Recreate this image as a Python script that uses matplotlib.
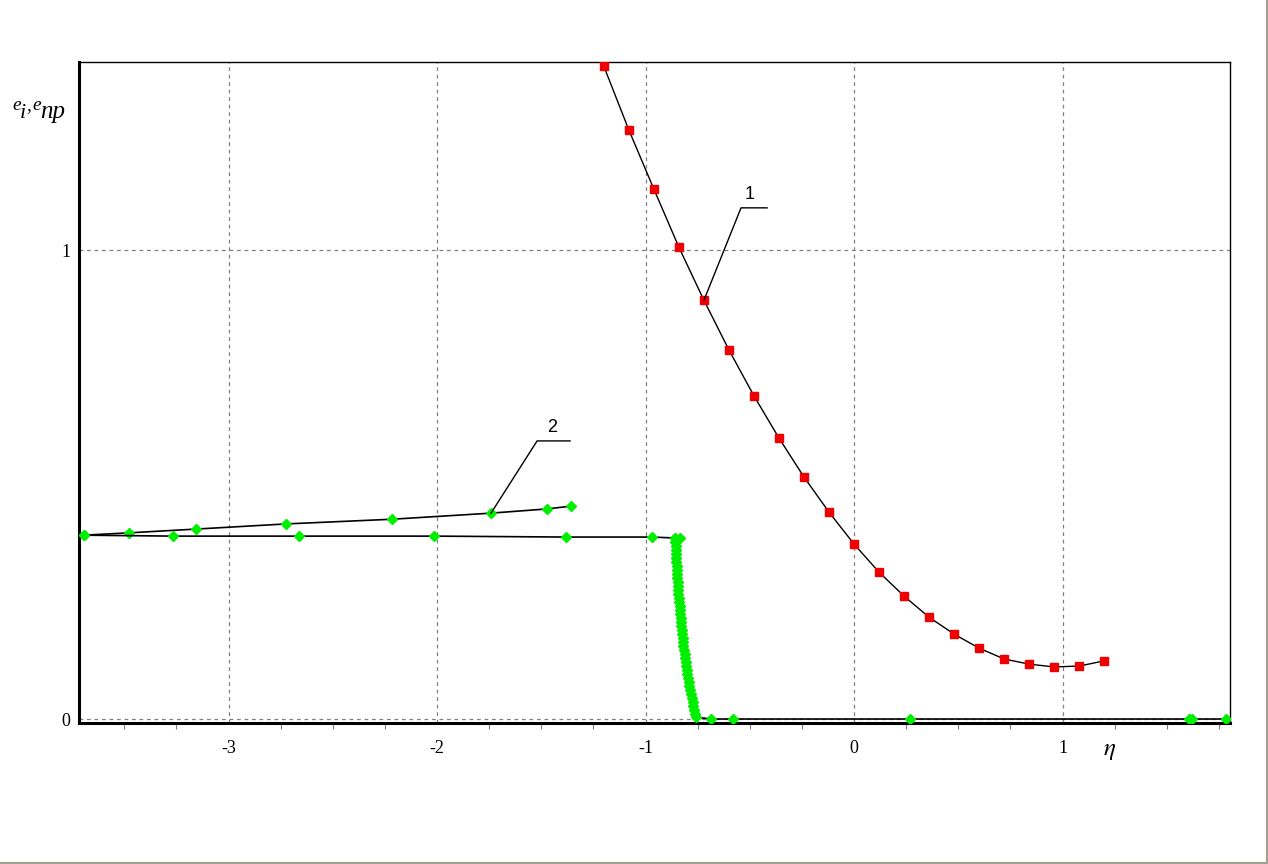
import matplotlib
matplotlib.use("Agg")
import matplotlib.pyplot as plt
import numpy as np
from matplotlib.ticker import MultipleLocator
from matplotlib.lines import Line2D

# Curve 1 (red squares)
eta1 = [-1.20, -1.08, -0.96, -0.84, -0.72, -0.60, -0.48, -0.36, -0.24, -0.12, 0.00,
        0.12, 0.24, 0.36, 0.48, 0.60, 0.72, 0.84, 0.96, 1.08, 1.20]
e1 = [1.392, 1.256, 1.130, 1.006, 0.893, 0.787, 0.689, 0.599, 0.516, 0.441, 0.373,
      0.313, 0.262, 0.217, 0.181, 0.151, 0.128, 0.117, 0.111, 0.113, 0.124]

# Curve 2 upper branch (green diamonds)
eta2_up = [-3.693, -3.477, -3.156, -2.724, -2.216, -1.741, -1.472, -1.357]
e2_up = [0.392, 0.397, 0.405, 0.416, 0.426, 0.439, 0.448, 0.454]

# Curve 2 lower branch, dense drop and zero tail
eta2_low = [-3.693, -3.266, -2.662, -2.014, -1.381, -0.969, -0.859, -0.835,
            -0.859, -0.857, -0.856, -0.855, -0.854, -0.853, -0.852, -0.851, -0.850,
            -0.849, -0.847, -0.846, -0.845, -0.844, -0.843, -0.841, -0.839, -0.837,
            -0.835, -0.834, -0.832, -0.830, -0.828, -0.826, -0.824, -0.822, -0.820,
            -0.818, -0.816, -0.813, -0.811, -0.808, -0.805, -0.802, -0.799, -0.796,
            -0.793, -0.790, -0.786, -0.782, -0.778, -0.774, -0.770, -0.766, -0.762,
            -0.758, -0.686, -0.580, 0.269, 1.607, 1.621, 1.784]
e2_low = [0.392, 0.390, 0.390, 0.390, 0.388, 0.388, 0.386, 0.386,
          0.386, 0.377, 0.369, 0.360, 0.352, 0.343, 0.335, 0.326, 0.318,
          0.309, 0.301, 0.292, 0.284, 0.275, 0.267, 0.258, 0.249, 0.241,
          0.232, 0.224, 0.215, 0.207, 0.198, 0.190, 0.181, 0.173, 0.164,
          0.156, 0.147, 0.139, 0.130, 0.122, 0.113, 0.104, 0.096, 0.087,
          0.079, 0.070, 0.062, 0.053, 0.045, 0.036, 0.028, 0.019, 0.011,
          0.004, 0.0, 0.0, 0.0, 0.0, 0.0, 0.0]

x_ticks = [-3, -2, -1, 0, 1]
y_ticks = [0, 1]

plt.rcParams['mathtext.fontset'] = 'stix'

W, H = 1268, 864
fig = plt.figure(figsize=(W/100, H/100), dpi=100)
ax = fig.add_axes([79/W, 1-723/H, (1230-79)/W, (723-62)/H])

ax.set_xlim(-3.717, 1.803)
ax.set_ylim(-0.0085, 1.401)

ax.grid(True, color='#808080', linestyle=(0, (3, 3)), linewidth=0.9)
ax.set_axisbelow(True)

ax.plot(eta2_up, e2_up, color='black', lw=1.2, marker='D', ms=5.5,
        mfc='#00ee00', mec='#00ee00', zorder=3)
ax.plot(eta2_low, e2_low, color='black', lw=1.2, marker='D', ms=5.5,
        mfc='#00ee00', mec='#00ee00', zorder=3)
ax.plot(eta1, e1, color='black', lw=1.0, marker='s', ms=6,
        mfc='#ee0000', mec='#ee0000', zorder=4)

# leader lines and labels
ax.plot([eta1[4], -0.542, -0.417], [e1[4], 1.090, 1.090], color='black', lw=1.0, zorder=5)
ax.text(-0.499, 1.100, '1', fontsize=13, ha='center', va='bottom', family='Liberation Sans')
ax.plot([eta2_up[5], -1.520, -1.362], [e2_up[5], 0.593, 0.593], color='black', lw=1.0, zorder=5)
ax.text(-1.448, 0.603, '2', fontsize=13, ha='center', va='bottom', family='Liberation Sans')

ax.set_xticks(x_ticks)
ax.set_yticks(y_ticks)
ax.set_xticklabels([str(v) for v in x_ticks], family='Liberation Serif', fontsize=13)
ax.set_yticklabels([str(v) for v in y_ticks], family='Liberation Serif', fontsize=13)
ax.xaxis.set_minor_locator(MultipleLocator(0.25))
ax.tick_params(axis='x', which='major', length=0, pad=12)
ax.tick_params(axis='x', which='minor', length=4, direction='out', width=0.8, color='#808080')
ax.tick_params(axis='y', which='major', length=0, pad=6)

for s in ['left', 'bottom']:
    ax.spines[s].set_linewidth(2.2)
for s in ['top', 'right']:
    ax.spines[s].set_linewidth(1.0)

# y-axis label e_i, e_np built from pieces
def ft(xp, yp, s, size):
    fig.text(xp/W, 1-yp/H, s, fontsize=size, family='Liberation Serif',
             style='italic', ha='left', va='baseline')

ft(12, 110, 'e', 14)
ft(20, 118, 'i', 16)
ft(26, 110, ',', 14)
ft(32, 110, 'e', 14)
ft(40, 118, 'np', 18)

fig.text(1110/W, 1-750/H, r'$\eta$', fontsize=18, ha='center', va='center')

# window border
fig.add_artist(Line2D([0, 1], [0.8/H, 0.8/H], transform=fig.transFigure, color='#a0a090', lw=1.5))
fig.add_artist(Line2D([1-1/W, 1-1/W], [0, 1], transform=fig.transFigure, color='#a0a090', lw=1.5))

fig.savefig('out.png', dpi=100)
